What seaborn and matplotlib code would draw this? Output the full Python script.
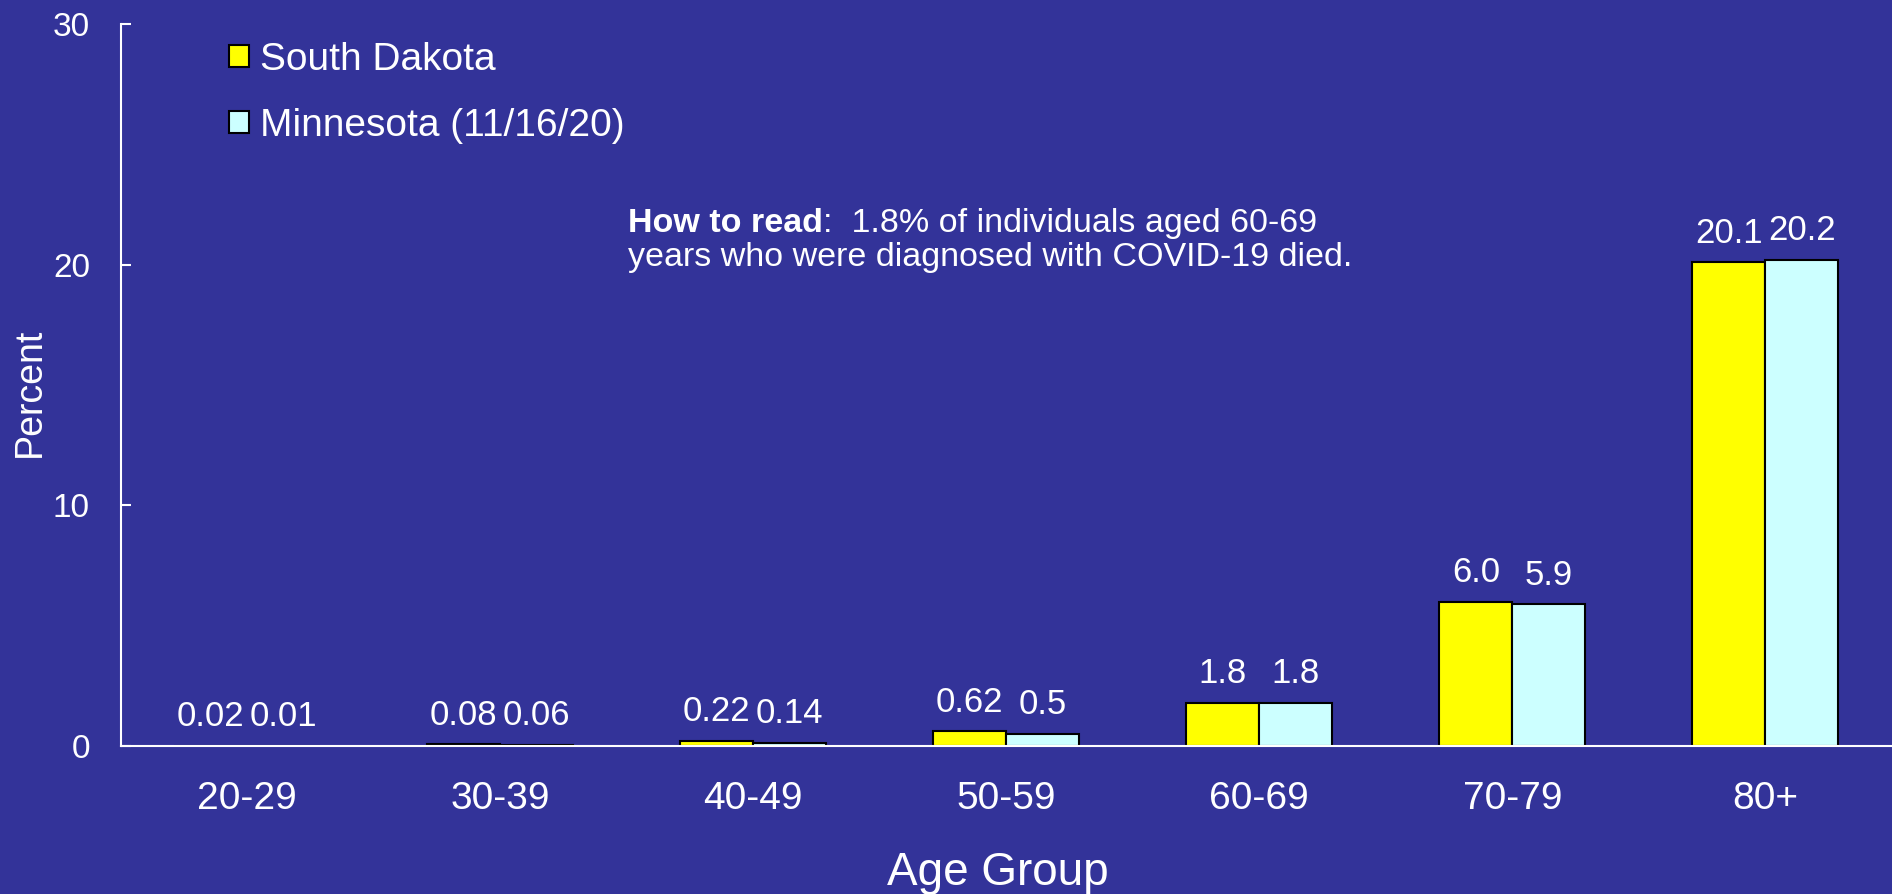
import numpy as np
import pandas as pd
import matplotlib.pyplot as plt
import seaborn as sns

age_groups = ["20-29", "30-39", "40-49", "50-59", "60-69", "70-79", "80+"]
south_dakota = [0.02, 0.08, 0.22, 0.62, 1.8, 6.0, 20.1]
minnesota = [0.01, 0.06, 0.14, 0.5, 1.8, 5.9, 20.2]
sd_labels = ["0.02", "0.08", "0.22", "0.62", "1.8", "6.0", "20.1"]
mn_labels = ["0.01", "0.06", "0.14", "0.5", "1.8", "5.9", "20.2"]
series = ["South Dakota", "Minnesota (11/16/20)"]
y_ticks = [0, 10, 20, 30]

df = pd.DataFrame({
    "Age Group": age_groups * 2,
    "Percent": south_dakota + minnesota,
    "State": [series[0]] * len(age_groups) + [series[1]] * len(age_groups),
})

bg = "#333399"
sns.set_style("ticks")
plt.rcParams["font.family"] = ["Liberation Sans", "DejaVu Sans"]

W, H = 1892, 894
fig = plt.figure(figsize=(W / 100, H / 100), dpi=100, facecolor=bg)
ax = fig.add_axes([120.5 / W, 148 / H, 1771.5 / W, 722 / H])
ax.set_facecolor(bg)

sns.barplot(data=df, x="Age Group", y="Percent", hue="State",
            palette=["#FFFF00", "#CCFFFF"], saturation=1, width=0.577,
            edgecolor="black", linewidth=1.5, ax=ax)

ax.set_xlim(-0.5, 6.5)
ax.set_ylim(0, 30)
ax.set_yticks(y_ticks)

for s in ["top", "right"]:
    ax.spines[s].set_visible(False)
for s in ["left", "bottom"]:
    ax.spines[s].set_color("white")
    ax.spines[s].set_linewidth(1.5)

ax.tick_params(axis="y", direction="in", length=7, width=1.5, color="white",
               labelcolor="white", labelsize=24, pad=22)
ax.tick_params(axis="x", length=0, labelcolor="white", labelsize=28, pad=25)

for cont, labs in zip(ax.containers, [sd_labels, mn_labels]):
    ax.bar_label(cont, labels=labs, padding=9, color="white", fontsize=25)

ax.set_ylabel("Percent", color="white", fontsize=27)
ax.yaxis.set_label_coords(-0.041, 0.49)
ax.set_xlabel("Age Group", color="white", fontsize=33, va="baseline")
ax.xaxis.set_label_coords(0.495, -0.1925)

handles, labels = ax.get_legend_handles_labels()
ax.legend(handles, labels, loc="upper left", bbox_to_anchor=(229 / W, 1 - 42 / H),
          bbox_transform=fig.transFigure, frameon=False, fontsize=28,
          handlelength=0.51, handleheight=0.51, handletextpad=0.28,
          labelspacing=0.76, borderpad=0, borderaxespad=0, labelcolor="white")

# how-to-read note
t1 = fig.text(628 / W, 1 - 232 / H, "How to read", color="white", fontsize=24.5,
              fontweight="bold", va="baseline")
ax.annotate(":  1.8% of individuals aged 60-69", xy=(1, 0), xycoords=t1,
            color="white", fontsize=24.5, va="bottom", ha="left")
fig.text(628 / W, 1 - 266 / H, "years who were diagnosed with COVID-19 died.",
         color="white", fontsize=24.5, va="baseline")

fig.savefig("out.png", dpi=100, facecolor=bg)
